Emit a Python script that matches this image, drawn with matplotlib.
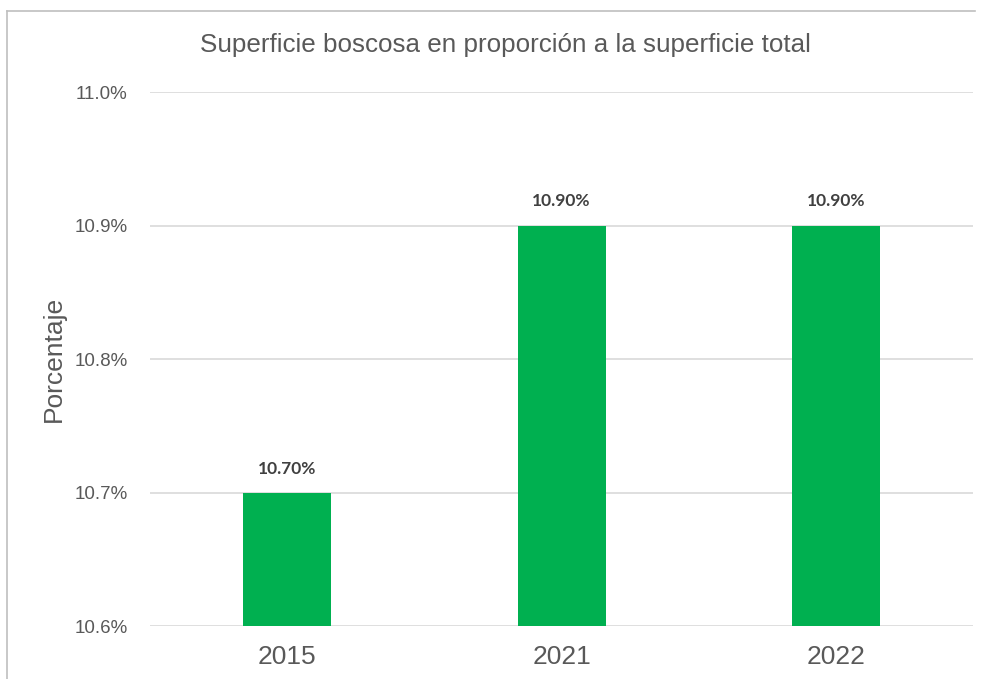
import matplotlib
matplotlib.use("Agg")
import matplotlib.pyplot as plt
from matplotlib.lines import Line2D

years = ["2015", "2021", "2022"]
values = [10.70, 10.90, 10.90]
y_ticks = [10.6, 10.7, 10.8, 10.9, 11.0]

plt.rcParams['font.family'] = ['Liberation Sans', 'DejaVu Sans']
text_gray = "#595959"

fig = plt.figure(figsize=(9.87, 6.79), dpi=100)
ax = fig.add_axes([0.152, 0.078, 0.834, 0.7865])

x = range(len(years))
bars = ax.bar(x, [v - 10.6 for v in values], bottom=10.6, width=0.32,
              color="#00B050", zorder=3)

for i, v in enumerate(values):
    ax.text(i, v + 0.012, f"{v:.2f}%", ha="center", va="bottom",
            fontsize=12.5, fontweight="bold", color="#404040", family="Lato")

ax.set_xlim(-0.5, 2.5)
ax.set_ylim(10.6, 11.0)
ax.set_yticks(y_ticks)
ax.set_yticklabels([f"{t:.1f}%" for t in y_ticks], fontsize=13.5, color=text_gray)
ax.set_xticks(list(x))
ax.set_xticklabels(years, fontsize=19, color=text_gray)
ax.tick_params(length=0)
ax.tick_params(axis="y", pad=16)
ax.tick_params(axis="x", pad=14)
ax.grid(axis="y", color="#D9D9D9", linewidth=1.2, zorder=0)
for s in ax.spines.values():
    s.set_visible(False)

ax.set_ylabel("Porcentaje", fontsize=19, color=text_gray, labelpad=6)
fig.text(0.512, 0.933, "Superficie boscosa en proporción a la superficie total",
         ha="center", va="center", fontsize=18.7, color=text_gray)

# chart frame (left and top edges visible)
fig.add_artist(Line2D([0.007, 0.007], [0.0, 0.984], color="#BFBFBF", lw=1.2))
fig.add_artist(Line2D([0.007, 0.988], [0.984, 0.984], color="#BFBFBF", lw=1.2))

fig.savefig("out.png", dpi=100, facecolor="white")
